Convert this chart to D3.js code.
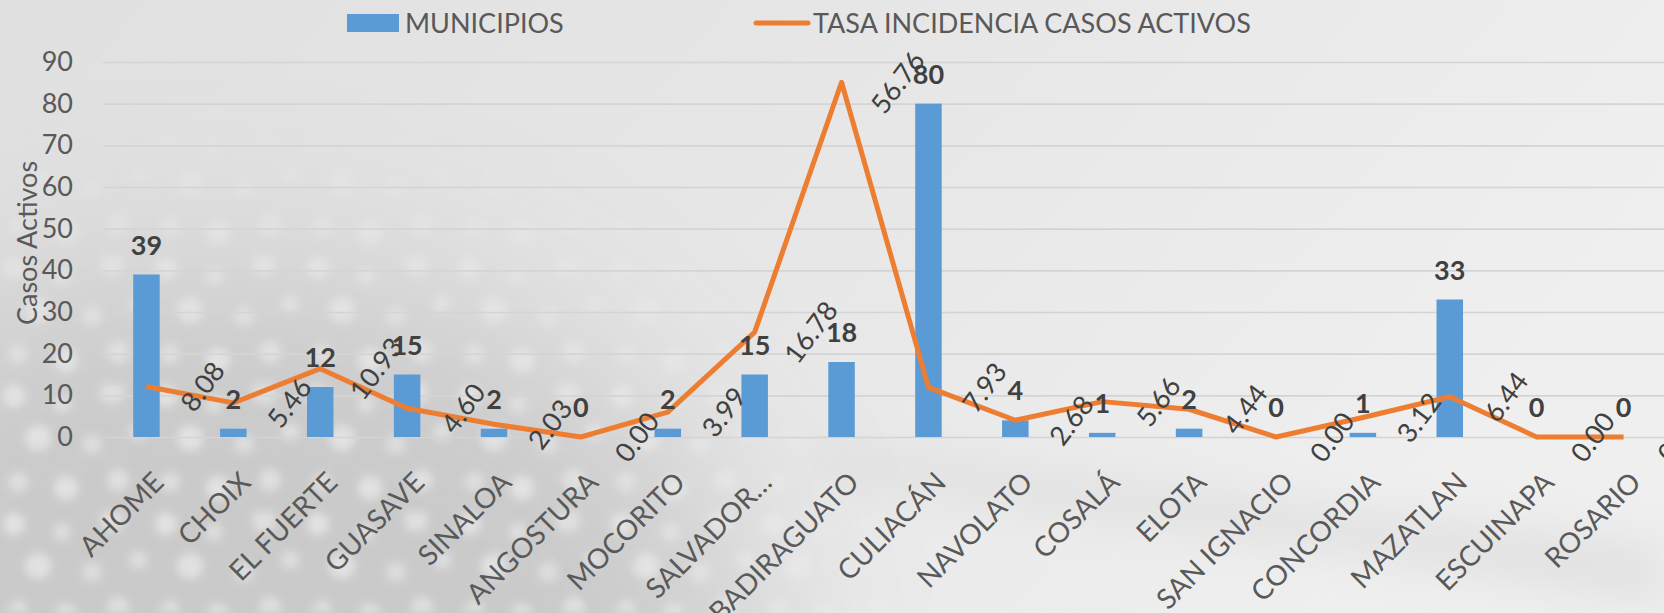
<!DOCTYPE html>
<html lang="es">
<head>
<meta charset="UTF-8">
<title>Casos activos por municipio</title>
<script src="https://d3js.org/d3.v7.min.js"></script>
<style>
    html, body { margin: 0; padding: 0; overflow: hidden; }
    svg { display: block; font-family: Lato, "Open Sans", sans-serif; }
</style>
</head>
<body>
<script>
    // data
    var municipios = ['AHOME', 'CHOIX', 'EL FUERTE', 'GUASAVE', 'SINALOA', 'ANGOSTURA', 'MOCORITO',
        'SALVADOR…', 'BADIRAGUATO', 'CULIACÁN', 'NAVOLATO', 'COSALÁ', 'ELOTA', 'SAN IGNACIO',
        'CONCORDIA', 'MAZATLAN', 'ESCUINAPA', 'ROSARIO'];
    var casosActivos = [39, 2, 12, 15, 2, 0, 2, 15, 18, 80, 4, 1, 2, 0, 1, 33, 0, 0];
    var tasaIncidencia = [8.08, 5.46, 10.93, 4.60, 2.03, 0.00, 3.99, 16.78, 56.76, 7.93, 2.68, 5.66,
        4.44, 0.00, 3.12, 6.44, 0.00, 0.00];
    var yTicks = [0, 10, 20, 30, 40, 50, 60, 70, 80, 90];

    const width = 1664;
    const height = 613;
    const plotLeft = 103, plotRight = 1667, plotTop = 62, plotBottom = 437;

    var svg = d3.select('body').append('svg')
        .attr('width', width)
        .attr('height', height);

    var defs = svg.append('defs');

    // background: light grey gradient, bokeh in the lower left, soft swoosh lower right
    var bg = defs.append('linearGradient').attr('id', 'bg')
        .attr('x1', 0).attr('y1', 0).attr('x2', 1).attr('y2', 0.3);
    bg.append('stop').attr('offset', '0%').attr('stop-color', '#e0e0e0');
    bg.append('stop').attr('offset', '55%').attr('stop-color', '#e7e7e7');
    bg.append('stop').attr('offset', '100%').attr('stop-color', '#efefef');

    defs.append('filter').attr('id', 'bigBlur')
        .attr('x', '-50%').attr('y', '-50%').attr('width', '200%').attr('height', '200%')
        .append('feGaussianBlur').attr('stdDeviation', 90);
    defs.append('filter').attr('id', 'midBlur')
        .attr('x', '-20%').attr('y', '-50%').attr('width', '140%').attr('height', '200%')
        .append('feGaussianBlur').attr('stdDeviation', 22);
    defs.append('filter').attr('id', 'soft')
        .append('feGaussianBlur').attr('stdDeviation', 4);

    var mask = defs.append('mask').attr('id', 'bokehMask')
        .attr('maskUnits', 'userSpaceOnUse')
        .attr('x', 0).attr('y', 0).attr('width', width).attr('height', height);
    mask.append('ellipse')
        .attr('cx', 220).attr('cy', 680).attr('rx', 540).attr('ry', 420)
        .attr('fill', '#fff').attr('filter', 'url(#bigBlur)');

    var pat = defs.append('pattern').attr('id', 'dots')
        .attr('patternUnits', 'userSpaceOnUse')
        .attr('width', 152).attr('height', 128);
    [[14, 12, 11, 1], [62, 20, 9, 0.8], [112, 8, 12, 0.9], [38, 54, 13, 0.95], [92, 60, 10, 0.75],
     [138, 48, 9, 0.85], [18, 98, 10, 0.8], [66, 104, 12, 1], [118, 96, 11, 0.9]]
        .forEach(function (c) {
            pat.append('circle').attr('cx', c[0]).attr('cy', c[1]).attr('r', c[2])
                .attr('fill', '#f6f6f6').attr('fill-opacity', c[3]);
        });

    svg.append('rect').attr('width', width).attr('height', height).attr('fill', 'url(#bg)');
    var bokeh = svg.append('g').attr('mask', 'url(#bokehMask)');
    bokeh.append('rect').attr('width', width).attr('height', height).attr('fill', '#cacaca');
    bokeh.append('rect').attr('width', width).attr('height', height)
        .attr('fill', 'url(#dots)').attr('filter', 'url(#soft)').attr('opacity', 0.55);

    svg.append('path')
        .attr('d', 'M820,448 L1664,545 L1664,605 L820,472 Z')
        .attr('fill', '#cdcdcd').attr('opacity', 0.4).attr('filter', 'url(#midBlur)');

    // scales
    var x = d3.scaleBand().domain(municipios).range([plotLeft, plotRight])
        .paddingInner(0.695).paddingOuter(0.3475);
    var y = d3.scaleLinear().domain([0, 90]).range([plotBottom, plotTop]);
    var y2 = d3.scaleLinear().domain([0, 60]).range([plotBottom, plotTop]);
    var cx = function (d) { return x(d) + x.bandwidth() / 2; };

    // y axis with gridlines
    var yAxis = svg.append('g')
        .attr('transform', 'translate(' + plotLeft + ',0)')
        .call(d3.axisLeft(y).tickValues(yTicks).tickSize(-(plotRight - plotLeft)).tickPadding(30));
    yAxis.select('.domain').remove();
    yAxis.selectAll('line').attr('stroke', '#d4d4d4').attr('stroke-width', 1.6);
    yAxis.selectAll('text')
        .attr('fill', '#595959')
        .style('font-size', '27px')
        .style('font-family', 'Lato, sans-serif');

    // x axis labels
    var xAxis = svg.append('g')
        .attr('transform', 'translate(0,' + plotBottom + ')')
        .call(d3.axisBottom(x).tickSize(0));
    xAxis.select('.domain').remove();
    xAxis.selectAll('text')
        .attr('fill', '#595959')
        .style('font-size', '28px')
        .style('font-family', 'Lato, sans-serif')
        .attr('text-anchor', 'end')
        .attr('y', 0).attr('dy', '0.71em')
        .attr('transform', 'translate(5,33) rotate(-45)');

    // bars
    svg.append('g').selectAll('rect')
        .data(casosActivos)
        .enter().append('rect')
        .attr('x', function (d, i) { return x(municipios[i]); })
        .attr('y', function (d) { return y(d); })
        .attr('width', x.bandwidth())
        .attr('height', function (d) { return plotBottom - y(d); })
        .attr('fill', '#5b9bd5');

    // line
    var line = d3.line()
        .x(function (d, i) { return cx(municipios[i]); })
        .y(function (d) { return y2(d); });
    svg.append('path')
        .datum(tasaIncidencia)
        .attr('d', line)
        .attr('fill', 'none')
        .attr('stroke', '#ed7d31')
        .attr('stroke-width', 5)
        .attr('stroke-linejoin', 'round');

    // bar labels
    svg.append('g').selectAll('text')
        .data(casosActivos)
        .enter().append('text')
        .attr('x', function (d, i) { return cx(municipios[i]); })
        .attr('y', function (d) { return y(d) - 20; })
        .attr('text-anchor', 'middle')
        .attr('fill', '#404040')
        .style('font-size', '27px')
        .style('font-weight', 'bold')
        .text(function (d) { return d; });

    // line labels (rotated, to the right of the point)
    svg.append('g').selectAll('text')
        .data(tasaIncidencia)
        .enter().append('text')
        .attr('transform', function (d, i) {
            return 'translate(' + (cx(municipios[i]) + 56) + ',' + y2(d) + ') rotate(-53)';
        })
        .attr('text-anchor', 'middle')
        .attr('dy', '0.36em')
        .attr('fill', '#404040')
        .style('font-size', '27px')
        .text(function (d) { return d.toFixed(2); });

    // y axis title
    svg.append('text')
        .attr('transform', 'translate(37,243) rotate(-90)')
        .attr('text-anchor', 'middle')
        .attr('fill', '#595959')
        .style('font-size', '27px')
        .text('Casos Activos');

    // legend
    var legend = svg.append('g');
    legend.append('rect')
        .attr('x', 347).attr('y', 14).attr('width', 52).attr('height', 18)
        .attr('fill', '#5b9bd5');
    legend.append('text')
        .attr('x', 405).attr('y', 33)
        .attr('fill', '#595959')
        .style('font-size', '27px')
        .text('MUNICIPIOS');
    legend.append('line')
        .attr('x1', 756).attr('x2', 808).attr('y1', 23).attr('y2', 23)
        .attr('stroke', '#ed7d31').attr('stroke-width', 5).attr('stroke-linecap', 'round');
    legend.append('text')
        .attr('x', 813).attr('y', 33)
        .attr('fill', '#595959')
        .style('font-size', '27px')
        .text('TASA INCIDENCIA CASOS ACTIVOS');
</script>
</body>
</html>
